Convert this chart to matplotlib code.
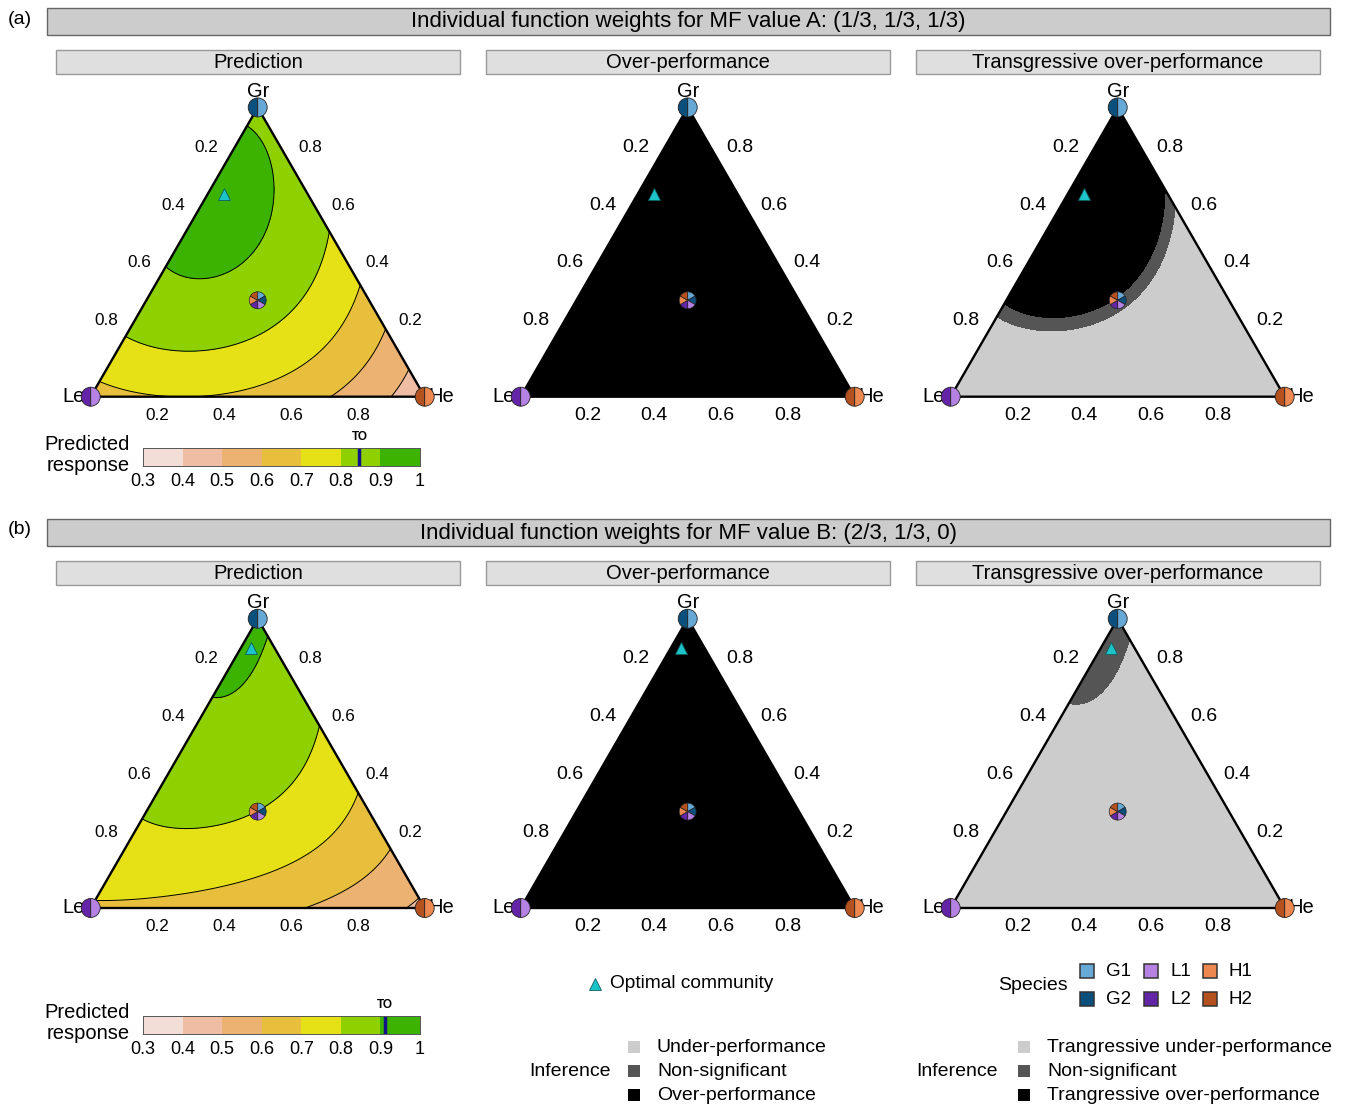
import numpy as np
import matplotlib
matplotlib.use('Agg')
import matplotlib.pyplot as plt
from matplotlib.patches import Polygon, Wedge, Rectangle

plt.rcParams['font.family'] = ['Liberation Sans', 'DejaVu Sans']

W, H = 1347, 1105

# ---- data ----
groups = ['Gr', 'Le', 'He']
species = ['G1', 'G2', 'L1', 'L2', 'H1', 'H2']
species_colors = ['#67A9D6', '#0B4F7C', '#B581E3', '#6424A8', '#EC8850', '#B5511E']
levels = [0.3, 0.4, 0.5, 0.6, 0.7, 0.8, 0.9, 1.0]
level_labels = ['0.3', '0.4', '0.5', '0.6', '0.7', '0.8', '0.9', '1']
level_colors = ['#F2DED6', '#EFBDA3', '#ECB271', '#E8BF3D', '#E6E017', '#8FD100', '#3BB300']
tick_values = [0.2, 0.4, 0.6, 0.8]

row_tags = ['(a)', '(b)']
row_titles = ['Individual function weights for MF value A: (1/3, 1/3, 1/3)',
              'Individual function weights for MF value B: (2/3, 1/3, 0)']
panel_titles = ['Prediction', 'Over-performance', 'Transgressive over-performance']

# Scheffe cubic coefficients:
# Gr, Le, He, Gr:Le, Gr:He, Le:He, Gr:Le:He, cubic Gr:Le, cubic Gr:He, cubic Le:He
coef_a = [0.88, 0.66, 0.43, 0.57, 0.44, 0.52, 0.65, 0.0, 0.15, 0.0]
coef_b = [0.915, 0.69, 0.478, 0.21, 0.20, 0.20, 1.0, 0.05, 0.0, 0.0]
# optimal community (Gr, Le, He)
optimal_a = [0.70, 0.25, 0.05]
optimal_b = [0.90, 0.07, 0.03]
# transgressive over-performance threshold
to_a = 0.847
to_b = 0.912
# inference cut points on predicted response (non-significant, over-performance)
trans_cut_a = [0.835, 0.855]
trans_cut_b = [0.897, 1.5]

inf_labels_mid = ['Under-performance', 'Non-significant', 'Over-performance']
inf_labels_right = ['Trangressive under-performance', 'Non-significant',
                    'Trangressive over-performance']
inf_colors = ['#CCCCCC', '#555555', '#000000']

rows = [(coef_a, optimal_a, to_a, trans_cut_a),
        (coef_b, optimal_b, to_b, trans_cut_b)]

# ---- layout (pixels) ----
LE_X = [90.7, 520.7, 950.7]
LE_Y = [396.7, 908.0]
SIDE = 334.0
XL = (-0.25, 1.25)
YL = (-0.2, 1.0)
S3 = np.sqrt(3) / 2

fig = plt.figure(figsize=(W / 100, H / 100), dpi=100)


def px_axes(x0, y0, x1, y1):
    return fig.add_axes([x0 / W, 1 - y1 / H, (x1 - x0) / W, (y1 - y0) / H])


def tern(g, l, h):
    return np.asarray(h) + 0.5 * np.asarray(g), S3 * np.asarray(g)


def surface(coef, g, l, h):
    bG, bL, bH, dGL, dGH, dLH, dGLH, cGL, cGH, cLH = coef
    return (bG * g + bL * l + bH * h
            + dGL * g * l + dGH * g * h + dLH * l * h + dGLH * g * l * h
            + cGL * g * l * (g - l) + cGH * g * h * (g - h) + cLH * l * h * (l - h))


xs = np.linspace(-0.01, 1.01, 500)
ys = np.linspace(-0.01, S3 + 0.01, 450)
X, Y = np.meshgrid(xs, ys)
Gg = Y / S3
Hh = X - Gg / 2
Ll = 1 - Gg - Hh

# overlay for strips and legends
ov = fig.add_axes([0, 0, 1, 1])
ov.set_xlim(0, W)
ov.set_ylim(H, 0)
ov.axis('off')

for r in range(2):
    dy = [0, 511][r]
    ov.add_patch(Rectangle((47, 8 + dy), 1283, 27, facecolor='#CCCCCC', edgecolor='#666666', lw=1))
    ov.text(688, 22 + dy, row_titles[r], ha='center', va='center', fontsize=16)
    ov.text(20, 19 + dy, row_tags[r], ha='center', va='center', fontsize=14)
    for c in range(3):
        x0 = 56 + 430 * c
        ov.add_patch(Rectangle((x0, 50 + dy), 404, 24, facecolor='#DFDFDF', edgecolor='#999999', lw=1))
        ov.text(x0 + 202, 62.5 + dy, panel_titles[c], ha='center', va='center', fontsize=14.5)


def draw_panel(ax, kind, coef, opt, cuts):
    ax.set_xlim(*XL)
    ax.set_ylim(*YL)
    ax.axis('off')
    vx, vy = tern([1, 0, 0], [0, 1, 0], [0, 0, 1])
    verts = np.column_stack([vx, vy])
    clip = Polygon(verts, closed=True, facecolor='none', edgecolor='none')
    ax.add_patch(clip)
    Z = surface(coef, Gg, Ll, Hh)
    if kind == 0:
        cs = ax.contourf(X, Y, Z, levels=levels, colors=level_colors)
        cl = ax.contour(X, Y, Z, levels=levels[1:-1], colors='black', linewidths=0.7)
        cs.set_clip_path(clip)
        cl.set_clip_path(clip)
    elif kind == 1:
        ax.fill(vx, vy, color=inf_colors[2], lw=0)
    else:
        cs = ax.contourf(X, Y, Z, levels=[-10, cuts[0], cuts[1], 10], colors=inf_colors)
        cs.set_clip_path(clip)
    ax.add_patch(Polygon(verts, closed=True, fill=False, edgecolor='black', lw=1.7,
                         joinstyle='miter', zorder=4))

    fs = 12.3 if kind == 0 else 14
    for v in tick_values:
        x, y = tern(1 - v, v, 0)
        ax.text(x - 18 / SIDE, y + 18 / SIDE, f'{v:.1f}', ha='center', va='center', fontsize=fs)
        x, y = tern(v, 0, 1 - v)
        ax.text(x + 19 / SIDE, y + 18 / SIDE, f'{v:.1f}', ha='center', va='center', fontsize=fs)
        x, y = tern(0, 1 - v, v)
        ax.text(x, y - 19 / SIDE, f'{v:.1f}', ha='center', va='center', fontsize=fs)

    # vertex labels and split markers
    ax.text(0.5, S3 + 16 / SIDE, groups[0], ha='center', va='center', fontsize=14.5)
    ax.text(-17 / SIDE, 0, groups[1], ha='center', va='center', fontsize=14.5)
    ax.text(1 + 17 / SIDE, 0, groups[2], ha='center', va='center', fontsize=14.5)
    rv = 9.5 / SIDE
    for k in range(3):
        comp = [0, 0, 0]
        comp[k] = 1
        x, y = tern(*comp)
        ax.add_patch(Wedge((x, y), rv, 90, 270, facecolor=species_colors[2 * k + 1],
                           edgecolor='#222222', lw=0.6, zorder=6))
        ax.add_patch(Wedge((x, y), rv, -90, 90, facecolor=species_colors[2 * k],
                           edgecolor='#222222', lw=0.6, zorder=6))

    # centroid pie
    cx, cy = tern(1 / 3, 1 / 3, 1 / 3)
    rp = 8.5 / SIDE
    for i, col in enumerate(species_colors):
        ax.add_patch(Wedge((cx, cy), rp, 90 - 60 * (i + 1), 90 - 60 * i, facecolor=col,
                           edgecolor='#222222', lw=0.5, zorder=6))

    ox, oy = tern(*opt)
    ax.plot(ox, oy, marker='^', ms=9, color='#1CC4C9', mec='#0E5F60', mew=0.6, zorder=7)


for r, (coef, opt, to, cuts) in enumerate(rows):
    for c in range(3):
        lx, ly = LE_X[c], LE_Y[r]
        ax = px_axes(lx + XL[0] * SIDE, ly - YL[1] * SIDE, lx + XL[1] * SIDE, ly - YL[0] * SIDE)
        draw_panel(ax, c, coef, opt, cuts)

    # colour bar
    by = [448, 1016][r]
    cax = px_axes(143, by, 420, by + 18)
    cax.bar(levels[:-1], [1] * (len(levels) - 1), width=0.1, align='edge',
            color=level_colors, lw=0)
    cax.set_xlim(levels[0], levels[-1])
    cax.set_ylim(0, 1)
    cax.set_yticks([])
    cax.set_xticks(levels)
    cax.set_xticklabels(level_labels)
    cax.tick_params(axis='x', length=0, labelsize=13, pad=5)
    for s in cax.spines.values():
        s.set_linewidth(0.7)
        s.set_edgecolor('#555555')
    cax.axvline(to, color='#12128A', lw=2.5)
    cax.text(to, 1.3, 'TO', transform=cax.get_xaxis_transform(), ha='center', va='bottom',
             fontsize=8.5, fontweight='bold')
    ov.text(130, by + 7, 'Predicted\nresponse', ha='right', va='center', fontsize=14.5,
            linespacing=1.12)

# legends
ov.plot(595, 984, marker='^', ms=9, color='#1CC4C9', mec='#0E5F60', mew=0.6)
ov.text(610, 984, 'Optimal community', ha='left', va='center', fontsize=13.8)

ov.text(1068, 986, 'Species', ha='right', va='center', fontsize=14)
for i, sp in enumerate(species):
    bx = [1087, 1151, 1210][i // 2]
    byy = [971, 999][i % 2]
    ov.add_patch(Rectangle((bx - 7, byy - 7), 14, 14, facecolor=species_colors[i],
                           edgecolor='#333333', lw=1.1))
    ov.text(bx + 19, byy, sp, ha='left', va='center', fontsize=13.5)

for labels, xt, xb in [(inf_labels_mid, 611, 634), (inf_labels_right, 998, 1024)]:
    ov.text(xt, 1071, 'Inference', ha='right', va='center', fontsize=14)
    for j, (lab, col) in enumerate(zip(labels, inf_colors)):
        yy = [1047, 1071, 1095][j]
        ov.add_patch(Rectangle((xb - 6, yy - 6), 12, 12, facecolor=col, edgecolor='none'))
        ov.text(xb + 23, yy, lab, ha='left', va='center', fontsize=14)

fig.savefig('out.png', dpi=100)
